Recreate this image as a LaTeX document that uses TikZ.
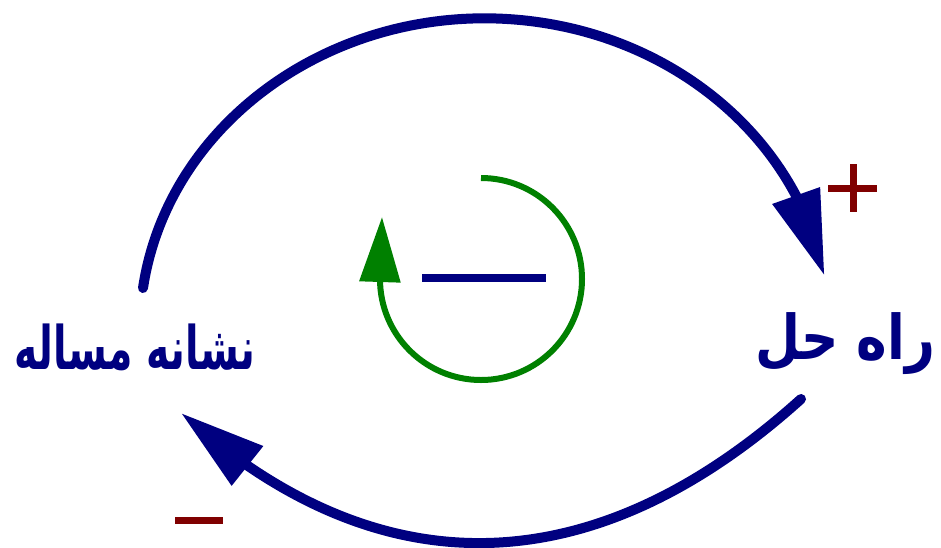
\documentclass[tikz,border=0pt]{standalone}
\usepackage{fontspec}
\usepackage{graphicx}
\newfontfamily\arabicfont[Script=Arabic]{DejaVu Sans}
\TeXXeTstate=1
\usetikzlibrary{arrows.meta,bending}
\definecolor{navyc}{RGB}{0,0,128}
\definecolor{greenc}{RGB}{0,128,0}
\definecolor{redc}{RGB}{128,0,0}
\tikzset{
  loopline/.style={line width=10pt, color=navyc, line cap=round},
  bigtip/.style={-{Triangle[length=85pt,width=48pt,flex]}},
  label/.style={text=navyc, font=\arabicfont\bfseries\fontsize{34}{40}\selectfont, inner sep=0pt},
  sign/.style={color=redc, line width=7pt},
}
\begin{document}
\begin{tikzpicture}[x=1pt,y=-1pt]
\useasboundingbox (0,0) rectangle (941,547);
\node[label] (prob) at (135,347) {\resizebox*{240pt}{47pt}{\beginR نشانه مساله\endR}};
\node[label] (sol) at (845,344) {\resizebox*{180pt}{62pt}{\beginR راه حل\endR}};
\coordinate (topstart) at (143,288);
\coordinate (botstart) at (801,399);
\coordinate (bottip) at (181,413);
\coordinate (gstart) at (481,178);
\coordinate (gtip) at (382,217);
% top arc: problem -> solution
\draw[loopline, bigtip] (topstart) arc[start angle=187.8, end angle=349.9, x radius=345, y radius=312];
% bottom arc: solution -> problem
\draw[loopline, bigtip] (botstart) .. controls (598,582) and (383,595) .. (bottip);
% green inner loop
\draw[greenc, line width=6pt, -{Triangle[length=65pt,width=40pt]}]
  (gstart) arc[start angle=270, end angle=540, radius=101] -- (gtip);
% centre minus
\draw[navyc, line width=8pt] (422,278) coordinate (ma) -- (546,278) coordinate (mb);
% plus sign
\draw[sign] (828,188) coordinate (pa) -- (877,188) coordinate (pb);
\draw[sign] (853,164) coordinate (pc) -- (853,212) coordinate (pd);
% minus sign
\draw[sign] (175,520) coordinate (na) -- (223,520) coordinate (nb);
\end{tikzpicture}
\end{document}
